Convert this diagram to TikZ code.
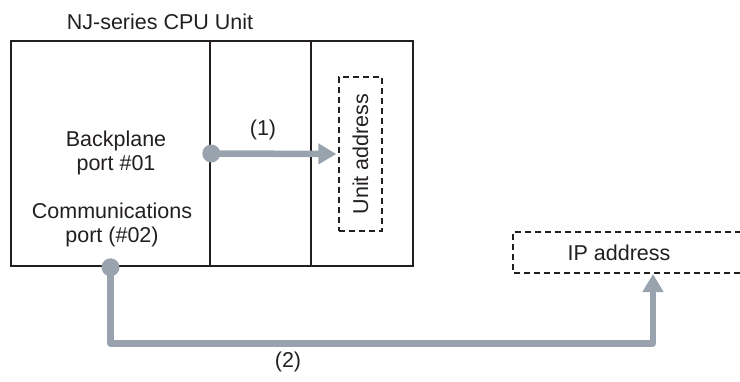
\documentclass[tikz,border=0pt]{standalone}
\usepackage{fontspec}
\setmainfont{Liberation Sans}
\usepackage{xcolor}
\definecolor{lnkgray}{RGB}{152,163,174}
\definecolor{txtdark}{RGB}{35,31,32}
\usetikzlibrary{arrows.meta,positioning,calc}

\begin{document}
\begin{tikzpicture}[x=1pt,y=-1pt,
  unitpart/.style={draw=txtdark,line width=2.6pt,minimum height=225pt,inner sep=0pt},
  lbl/.style={font=\fontsize{21.5}{23.5}\selectfont,text=txtdark,align=center,inner sep=0pt},
  addrbox/.style={draw=txtdark,dashed,line width=1.4pt,dash pattern=on 6pt off 4pt},
  link/.style={lnkgray,line width=6.5pt,line join=round,-{Triangle[length=18pt,width=20pt]}},
  portdot/.style={circle,fill=lnkgray,inner sep=0pt,minimum size=18pt}
]
  \useasboundingbox (0,0) rectangle (740,381);
  % CPU unit sections
  \node[lbl] (title) at (160,22) {NJ-series CPU Unit};
  \node[unitpart,minimum width=199pt] (s1) at (110.5,153.5) {};
  \node[unitpart,minimum width=101pt] (s2) at (260.5,153.5) {};
  \node[unitpart,minimum width=102pt] (s3) at (362,153.5) {};
  \node[lbl] (bp) at (116,153) {Backplane\\port \#01};
  \node[lbl] (cp) at (112,225) {Communications\\port (\#02)};
  % Addresses
  \node[addrbox,minimum width=43pt,minimum height=154pt,inner sep=0pt] (ua) at (360.5,154) {};
  \node[lbl,rotate=90] (ualbl) at (ua.center) {Unit address};
  \node[lbl] (ip) at (619,253) {IP address};
  \draw[addrbox] (741,232) -- (513,232) -- (513,273) -- (741,273);
  \coordinate (ipin) at (653,274);
  % Routes
  \draw[link,shorten >=2pt] (s1.east) -- (ua.west);
  \node[lbl] (r1) at (263,130) {(1)};
  \draw[link] (s1.south) -- ++(0,76) -| (ipin);
  \node[lbl] (r2) at (288,362) {(2)};
  \node[portdot] (bpdot) at (s1.east) {};
  \node[portdot] (cpdot) at (s1.south) {};
\end{tikzpicture}
\end{document}
